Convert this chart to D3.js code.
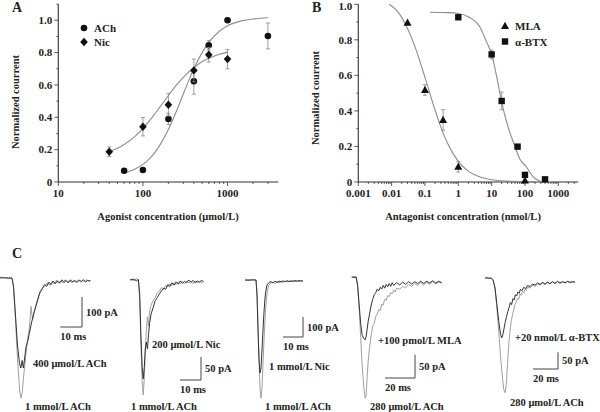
<!DOCTYPE html>
<html><head><meta charset="utf-8">
<script src="https://cdn.jsdelivr.net/npm/d3@7"></script>
<style>
html,body{margin:0;padding:0;background:#fff;}
svg text{font-family:"Liberation Serif","Times New Roman",serif;font-weight:bold;fill:#222;}
</style></head>
<body>
<svg id="chart" width="600" height="412"></svg>
<script>
// ---------------- DATA ----------------
// Panel A: agonists (µmol/L)
const achConc = [60, 100, 200, 400, 600, 1000, 3000];
const achVal  = [0.07, 0.074, 0.39, 0.623, 0.845, 1.0, 0.903];
const achErr  = [0, 0, 0.035, 0.08, 0.03, 0, 0.08];
const nicConc = [40, 100, 200, 400, 600, 1000];
const nicVal  = [0.187, 0.342, 0.478, 0.69, 0.787, 0.76];
const nicErr  = [0.03, 0.057, 0.07, 0.07, 0.045, 0.06];
// fitted curves
const achFitX = [60, 80, 100, 130, 160, 200, 250, 300, 350, 400, 500, 600, 800, 1000, 1500, 2000, 3000];
const achFitY = [0.056, 0.079, 0.109, 0.165, 0.231, 0.325, 0.441, 0.544, 0.63, 0.70, 0.80, 0.863, 0.932, 0.966, 0.998, 1.008, 1.016];
const nicFitX = [40, 50, 60, 80, 100, 130, 160, 200, 250, 300, 400, 500, 600, 800, 1000];
const nicFitY = [0.188, 0.209, 0.232, 0.281, 0.332, 0.403, 0.466, 0.535, 0.60, 0.647, 0.708, 0.743, 0.765, 0.79, 0.803];
const agonistTicks = ["10", "100", "1000"];

// Panel B: antagonists (nmol/L)
const mlaConc = [0.03, 0.1, 0.35, 1, 100];
const mlaVal  = [0.896, 0.518, 0.349, 0.086, 0.008];
const mlaErr  = [0, 0.03, 0.058, 0.03, 0];
const btxConc = [1, 10, 20, 60, 100, 400];
const btxVal  = [0.927, 0.718, 0.456, 0.199, 0.04, 0.015];
const btxErr  = [0, 0.025, 0.05, 0, 0, 0];
const mlaFitX = [0.0085, 0.015, 0.03, 0.05, 0.1, 0.2, 0.3, 0.5, 1, 2, 5, 10, 30, 100, 200];
const mlaFitY = [1.0, 0.96, 0.864, 0.762, 0.589, 0.405, 0.309, 0.209, 0.116, 0.061, 0.025, 0.013, 0.005, 0.002, 0.001];
const btxFitX = [0.14, 0.5, 1, 2, 4.4, 7, 10, 15, 20, 31, 50, 70, 110, 174, 347];
const btxFitY = [0.955, 0.953, 0.948, 0.93, 0.874, 0.79, 0.72, 0.57, 0.45, 0.311, 0.20, 0.13, 0.086, 0.03, 0.0];
const antagonistTicks = ["0.001", "0.01", "0.1", "1", "10", "100", "1000"];
const yTicks = ["0", "0.2", "0.4", "0.6", "0.8", "1.0"];

// Panel C: current traces, [time ms, current pA]
const tr1Gray = [[0,3],[2,0],[4,2],[5.5,0],[6.2,-30],[7,-120],[8,-260],[9,-370],[9.6,-400],[10.2,-385],[11,-320],[12,-250],[12.8,-200],[13.5,-170],[14.3,-95],[15,-140],[16,-105],[17,-80],[18,-55],[19,-45],[20,-30],[21,-25],[22,-15],[23,-25],[24,-12],[25,-20],[26,-8],[27,-18],[28,-10],[29,-16],[30,-6],[31,-14],[32,-8],[33,-15],[34,-7],[35,-12],[36,-6],[37,-13],[38,-8],[39,-12],[40,-6],[41,-10],[42,-8]];
const tr1Dark = [[0,0],[2,1],[4,-1],[5.5,0],[6.2,-25],[7,-110],[8,-220],[9,-285],[9.6,-300],[10.2,-275],[10.8,-300],[11.3,-270],[12,-230],[12.8,-210],[13.5,-185],[14.5,-150],[15.5,-120],[16.5,-95],[17.5,-70],[18.5,-45],[19.5,-35],[20.5,-22],[21.5,-28],[22.5,-14],[23.5,-22],[24.5,-10],[25.5,-19],[26.5,-9],[27.5,-17],[28.5,-6],[29.5,-15],[30.5,-8],[31.5,-16],[32.5,-6],[33.5,-14],[34.5,-9],[35.5,-15],[36.5,-7],[37.5,-12],[38.5,-6],[39.5,-13],[40.5,-8],[41.5,-11]];
const tr2Gray = [[0,2],[2,-2],[3,3],[4,0],[4.6,-40],[5.2,-140],[5.8,-220],[6.3,-250],[6.8,-215],[7.3,-150],[7.8,-110],[8.3,-80],[8.8,-100],[9.3,-70],[10,-55],[11,-45],[12,-38],[13,-28],[14,-25],[15,-16],[16,-20],[17,-12],[18,-15],[19,-8],[20,-12],[21,-6],[22,-10],[23,-4],[24,-9],[25,-3],[26,-8],[27,-2],[28,-7],[29,-3],[30,-8],[31,-2],[32,-6],[33,-3],[34,-5],[35,-4]];
const tr2Dark = [[0,0],[2,2],[3,-2],[4,1],[4.6,-30],[5.2,-120],[5.8,-190],[6.3,-215],[6.8,-190],[7.3,-150],[7.8,-135],[8.3,-150],[8.8,-120],[9.3,-95],[10,-75],[11,-60],[12,-45],[13,-38],[14,-30],[15,-24],[16,-18],[17,-20],[18,-10],[19,-14],[20,-6],[21,-11],[22,-4],[23,-9],[24,-2],[25,-7],[26,-3],[27,-6],[28,0],[29,-5],[30,-1],[31,-6],[32,-2],[33,-5],[34,-1],[35,-3]];
const tr3Gray = [[0,0],[2,1],[4,-1],[5.5,0],[6,-60],[6.5,-220],[7,-400],[7.5,-540],[8,-590],[8.5,-540],[9,-420],[9.5,-300],[10,-200],[10.5,-120],[11,-70],[11.5,-40],[12,-25],[13,-15],[14,-12],[15,-18],[16,-10],[17,-14],[18,-8],[19,-12],[20,-6],[21,-10],[22,-5],[23,-9],[24,-4],[25,-8],[26,-5],[27,-7],[28,-4],[29,-6]];
const tr3Dark = [[0,0],[2,-1],[4,1],[5.5,0],[6,-80],[6.5,-250],[7,-400],[7.5,-465],[8,-440],[8.5,-350],[9,-250],[9.5,-160],[10,-90],[10.5,-50],[11,-25],[12,-12],[13,-8],[14,-14],[15,-6],[16,-12],[17,-5],[18,-10],[19,-4],[20,-9],[21,-3],[22,-8],[23,-4],[24,-7],[25,-3],[26,-6],[27,-3],[28,-5],[29,-4]];
const tr4Gray = [[0,0],[1.5,1],[3,0],[4,-20],[5,-70],[6,-130],[7,-190],[8,-235],[9,-260],[9.6,-255],[10.3,-215],[11,-180],[12,-150],[13,-125],[14,-105],[15,-100],[16,-85],[17,-80],[18,-70],[19,-72],[20,-58],[21,-60],[22,-48],[23,-50],[24,-40],[25,-42],[26,-34],[27,-36],[28,-28],[29,-32],[30,-24],[32,-26],[34,-20],[36,-23],[38,-16],[40,-20],[42,-14],[44,-18],[46,-12],[48,-17],[50,-11],[52,-16],[54,-10],[56,-15],[58,-11],[60,-13]];
const tr4Dark = [[0,0],[1.5,-1],[3,0],[4,-20],[5,-60],[6,-100],[7,-125],[8,-132],[8.9,-135],[9.6,-128],[10.3,-112],[11,-95],[12,-78],[13,-60],[14,-48],[15,-38],[16,-34],[17,-26],[18,-30],[19,-22],[20,-26],[21,-18],[22,-24],[23,-16],[24,-21],[25,-14],[26,-20],[27,-12],[28,-18],[30,-12],[32,-17],[34,-11],[36,-16],[38,-10],[40,-15],[42,-10],[44,-14],[46,-9],[48,-14],[50,-9],[52,-13],[54,-8],[56,-13],[58,-9],[60,-12]];
const tr5Gray = [[0,0],[1.5,-2],[3,1],[5,0],[6.5,-8],[8,-30],[9.5,-90],[11,-160],[12.5,-240],[14,-300],[15,-335],[16,-345],[17,-320],[18,-260],[19,-200],[20,-160],[21,-130],[22,-110],[23,-95],[24,-80],[25,-72],[26,-60],[27,-64],[28,-48],[29,-52],[30,-40],[31,-44],[32,-34],[33,-37],[34,-28],[36,-30],[38,-22],[40,-25],[42,-18],[44,-22],[46,-15],[48,-20],[50,-13],[52,-18],[54,-12],[56,-17],[58,-11],[60,-16],[62,-12],[64,-15],[66,-11],[68,-14],[70,-12],[72,-13]];
const tr5Dark = [[0,0],[1.5,1],[3,-1],[5,0],[6.5,-6],[8,-30],[9.5,-80],[11,-130],[12.5,-170],[13.4,-180],[14.3,-170],[15.3,-150],[16.3,-130],[17.3,-115],[18.3,-100],[19.3,-88],[20.3,-74],[21.3,-80],[22.3,-62],[23.3,-66],[24.3,-50],[25.3,-54],[26.3,-42],[27.3,-46],[28.3,-34],[29.5,-38],[31,-28],[32.5,-32],[34,-22],[36,-26],[38,-18],[40,-22],[42,-15],[44,-19],[46,-13],[48,-18],[50,-12],[52,-17],[54,-11],[56,-16],[58,-10],[60,-15],[62,-11],[64,-14],[66,-10],[68,-13],[70,-11],[72,-12]];
const traceLabels = [
  ["400 μmol/L ACh", "1 mmol/L ACh"],
  ["200 μmol/L Nic", "1 mmol/L ACh"],
  ["1 mmol/L Nic", "1 mmol/L ACh"],
  ["+100 pmol/L MLA", "280 μmol/L ACh"],
  ["+20 nmol/L α-BTX", "280 μmol/L ACh"]
];
const barMs = [10, 10, 10, 20, 20];
const barPA = [100, 50, 100, 50, 50];

// ---------------- DRAW ----------------
const svg = d3.select("#chart");
const AX = "#333", FIT = "#8c8c8c", ERR = "#888";

function logTicks(lo, hi) { // major + minor ticks across decades
  const out = [];
  for (let e = Math.floor(Math.log10(lo)); e <= Math.ceil(Math.log10(hi)); e++) {
    for (let m = 1; m <= 9; m++) {
      const v = m * Math.pow(10, e);
      if (v >= lo * 0.999 && v <= hi) out.push({v, major: m === 1});
    }
  }
  return out;
}

function panel(cfg) {
  const g = svg.append("g");
  const x = d3.scaleLog().domain(cfg.xDom).range(cfg.xRange);
  const y = d3.scaleLinear().domain(cfg.yDom).range(cfg.yRange);
  g.append("line").attr("x1", x.range()[0]).attr("x2", x.range()[1]).attr("y1", y(0)).attr("y2", y(0)).attr("stroke", AX).attr("stroke-width", 1.1);
  g.append("line").attr("x1", x.range()[0]).attr("x2", x.range()[0]).attr("y1", y(0)).attr("y2", y.range()[1]).attr("stroke", AX).attr("stroke-width", 1.1);
  logTicks(cfg.xDom[0], cfg.xDom[1]).forEach(t => {
    g.append("line").attr("x1", x(t.v)).attr("x2", x(t.v)).attr("y1", y(0)).attr("y2", y(0) + (t.major ? 4 : 2)).attr("stroke", AX).attr("stroke-width", 0.8);
  });
  cfg.xLabels.forEach(s => {
    g.append("text").attr("x", x(+s)).attr("y", y(0) + 15).attr("text-anchor", "middle").attr("font-size", 11).text(s);
  });
  d3.range(0, cfg.yDom[1] + 0.001, 0.1).forEach((v, i) => {
    g.append("line").attr("x1", x.range()[0]).attr("x2", x.range()[0] - (i % 2 === 0 ? 4 : 2)).attr("y1", y(v)).attr("y2", y(v)).attr("stroke", AX).attr("stroke-width", 0.8);
  });
  yTicks.forEach(s => {
    g.append("text").attr("x", x.range()[0] - 6).attr("y", Math.max(y(+s) + 3.8, 9.5)).attr("text-anchor", "end").attr("font-size", 11).text(s);
  });
  g.append("text").attr("x", cfg.xTitleX).attr("y", 220).attr("text-anchor", "middle").attr("font-size", 10.5).text(cfg.xTitle);
  g.append("text").attr("transform", `translate(${cfg.yTitleX},${cfg.yTitleY}) rotate(-90)`).attr("text-anchor", "middle").attr("font-size", 10.5).text("Normalized courrent");
  g.append("text").attr("x", cfg.letterX).attr("y", 12).attr("font-size", 14).text(cfg.letter);
  const line = d3.line().x(d => x(d[0])).y(d => y(d[1])).curve(d3.curveMonotoneX);
  cfg.fits.forEach(f => {
    g.append("path").attr("d", line(d3.zip(f[0], f[1]))).attr("fill", "none").attr("stroke", FIT).attr("stroke-width", 1.1);
  });
  cfg.series.forEach(s => {
    s.conc.forEach((c, i) => {
      if (s.err[i] > 0) {
        const cx = x(c);
        g.append("line").attr("x1", cx).attr("x2", cx).attr("y1", y(s.val[i] - s.err[i])).attr("y2", y(s.val[i] + s.err[i])).attr("stroke", ERR).attr("stroke-width", 0.8);
        [-1, 1].forEach(sg => g.append("line").attr("x1", cx - 2).attr("x2", cx + 2).attr("y1", y(s.val[i] + sg * s.err[i])).attr("y2", y(s.val[i] + sg * s.err[i])).attr("stroke", ERR).attr("stroke-width", 0.8));
      }
    });
    s.conc.forEach((c, i) => marker(g, s.shape, x(c), y(s.val[i])));
    marker(g, s.shape, s.legX, s.legY);
    g.append("text").attr("x", s.legX + 10).attr("y", s.legY + 4).attr("font-size", 11).text(s.name);
  });
}

function marker(g, shape, cx, cy) {
  const fill = "#111";
  if (shape === "circle") g.append("circle").attr("cx", cx).attr("cy", cy).attr("r", 3.3).attr("fill", fill);
  else if (shape === "diamond") g.append("path").attr("d", `M${cx},${cy-4.2}L${cx+3.8},${cy}L${cx},${cy+4.2}L${cx-3.8},${cy}Z`).attr("fill", fill);
  else if (shape === "triangle") g.append("path").attr("d", `M${cx},${cy-4.2}L${cx+4},${cy+3}L${cx-4},${cy+3}Z`).attr("fill", fill);
  else g.append("rect").attr("x", cx - 3.2).attr("y", cy - 3.2).attr("width", 6.4).attr("height", 6.4).attr("fill", fill);
}

panel({
  xDom: [10, Math.pow(10, 3.6)], xRange: [58.3, 278.3], yDom: [0, 1.1], yRange: [182, 4.1],
  xLabels: agonistTicks, xTitle: "Agonist concentration (μmol/L)", xTitleX: 168,
  yTitleX: 19, yTitleY: 102, letter: "A", letterX: 12,
  fits: [[achFitX, achFitY], [nicFitX, nicFitY]],
  series: [
    {name: "ACh", shape: "circle", conc: achConc, val: achVal, err: achErr, legX: 84, legY: 28},
    {name: "Nic", shape: "diamond", conc: nicConc, val: nicVal, err: nicErr, legX: 84, legY: 42}
  ]
});
panel({
  xDom: [0.001, Math.pow(10, 3.6)], xRange: [358.3, 578.3], yDom: [0, 1.0], yRange: [182, 4.3],
  xLabels: antagonistTicks, xTitle: "Antagonist concentration (nmol/L)", xTitleX: 463,
  yTitleX: 319, yTitleY: 98, letter: "B", letterX: 312,
  fits: [[mlaFitX, mlaFitY], [btxFitX, btxFitY]],
  series: [
    {name: "MLA", shape: "triangle", conc: mlaConc, val: mlaVal, err: mlaErr, legX: 505, legY: 26},
    {name: "α-BTX", shape: "square", conc: btxConc, val: btxVal, err: btxErr, legX: 505, legY: 41.5}
  ]
});

// ---------------- Panel C ----------------
svg.append("text").attr("x", 12).attr("y", 258).attr("font-size", 14).text("C");
const traceLayout = [
  {x0: 0,     y0: 278, msPx: 2.17, pAPx: 0.30,  barX: 82,  barY: 327, lab1: [33, 367],  lab2: [25, 410]},
  {x0: 130,   y0: 280, msPx: 2.1,  pAPx: 0.46,  barX: 201, barY: 380, lab1: [152, 348], lab2: [131, 410]},
  {x0: 245,   y0: 280, msPx: 2.0,  pAPx: 0.20,  barX: 303, barY: 337, lab1: [269, 370], lab2: [265, 410]},
  {x0: 351.7, y0: 277, msPx: 1.5,  pAPx: 0.466, barX: 415, barY: 378, lab1: [378, 344], lab2: [370, 410]},
  {x0: 485,   y0: 278, msPx: 1.25, pAPx: 0.333, barX: 558, barY: 369, lab1: [515, 341], lab2: [510, 406]}
];
const traces = [[tr1Gray, tr1Dark], [tr2Gray, tr2Dark], [tr3Gray, tr3Dark], [tr4Gray, tr4Dark], [tr5Gray, tr5Dark]];
traces.forEach((pair, k) => {
  const L = traceLayout[k];
  const tmax = d3.max(pair[0], d => d[0]);
  const x = d3.scaleLinear().domain([0, tmax]).range([L.x0, L.x0 + tmax * L.msPx]);
  const y = d3.scaleLinear().domain([0, -100]).range([L.y0, L.y0 + 100 * L.pAPx]);
  const line = d3.line().x(d => x(d[0])).y(d => y(d[1]));
  svg.append("path").attr("d", line(pair[0])).attr("fill", "none").attr("stroke", "#a0a0a0").attr("stroke-width", 1);
  svg.append("path").attr("d", line(pair[1])).attr("fill", "none").attr("stroke", "#333").attr("stroke-width", 1);
  const wPx = barMs[k] * L.msPx, hPx = barPA[k] * L.pAPx;
  svg.append("path").attr("d", `M${L.barX - wPx},${L.barY}H${L.barX}V${L.barY - hPx}`).attr("fill", "none").attr("stroke", "#444").attr("stroke-width", 1);
  svg.append("text").attr("x", L.barX + 4).attr("y", L.barY - hPx / 2 + 3.5).attr("font-size", 10.5).text(barPA[k] + " pA");
  svg.append("text").attr("x", L.barX - wPx).attr("y", L.barY + 13).attr("font-size", 10.5).text(barMs[k] + " ms");
  svg.append("text").attr("x", L.lab1[0]).attr("y", L.lab1[1]).attr("font-size", 10.5).text(traceLabels[k][0]);
  svg.append("text").attr("x", L.lab2[0]).attr("y", L.lab2[1]).attr("font-size", 10.5).text(traceLabels[k][1]);
});
</script>
</body></html>
